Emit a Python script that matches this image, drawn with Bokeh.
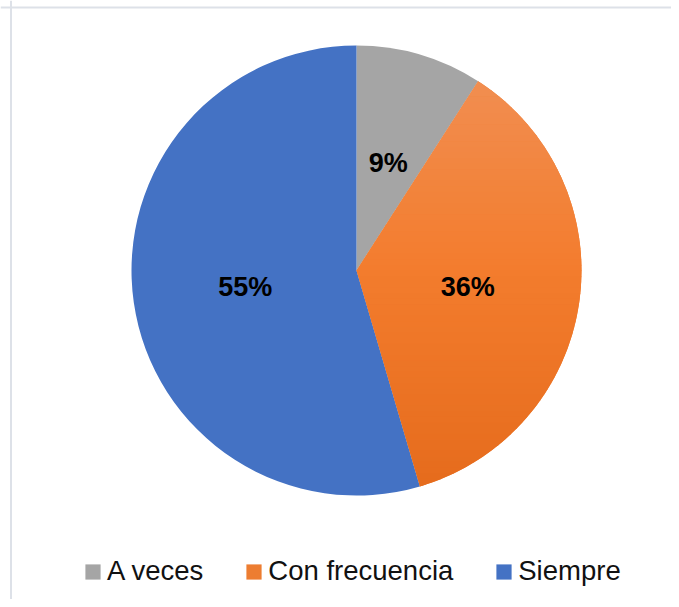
import math
from bokeh.plotting import figure
from bokeh.models import Range1d, Legend, LegendItem, Span, ColumnDataSource
from bokeh.core.properties import value
from bokeh.embed import file_html
from bokeh.resources import INLINE

# ---- data ----
categories = ["A veces", "Con frecuencia", "Siempre"]
counts = [1, 4, 6]
colors = ["#a5a5a5", "#ed7d31", "#4472c4"]

# ---- layout ----
W, H = 671, 599
CX, CY, R = 356.0, 329.0, 225.0
LABEL_R = 0.5

p = figure(width=W, height=H, output_backend="svg", toolbar_location=None,
           x_range=Range1d(0, W), y_range=Range1d(0, H), min_border=0)
p.axis.visible = False
p.grid.visible = False
p.outline_line_color = None
p.background_fill_color = "white"

total = sum(counts)
angles = []
a = math.pi / 2
for c in counts:
    span = 2 * math.pi * c / total
    angles.append((a, a - span))
    a -= span

renderers = []
for (s, e), col in zip(angles, colors):
    r = p.wedge(x=CX, y=CY, radius=R, start_angle=s, end_angle=e,
                direction="clock", fill_color=col, line_color=None)
    renderers.append(r)

# gradient overlay for the orange slice (vertical gradient)
def clip(poly, y0, y1):
    def clip_half(pts, keep, ycut):
        out = []
        n = len(pts)
        for i in range(n):
            P, Q = pts[i], pts[(i + 1) % n]
            inP, inQ = keep(P), keep(Q)
            if inP:
                out.append(P)
            if inP != inQ:
                t = (ycut - P[1]) / (Q[1] - P[1])
                out.append((P[0] + t * (Q[0] - P[0]), ycut))
        return out
    pts = clip_half(poly, lambda q: q[1] >= y0, y0)
    if not pts:
        return pts
    pts = clip_half(pts, lambda q: q[1] <= y1, y1)
    return pts

s, e = angles[1]
poly = [(CX, CY)]
N = 120
for i in range(N + 1):
    t = s + (e - s) * i / N
    poly.append((CX + R * math.cos(t), CY + R * math.sin(t)))

top_c = (0xF1, 0x91, 0x57)
mid_c = (0xF3, 0x7C, 0x2D)
bot_c = (0xE5, 0x6B, 0x1C)
def grad(f):
    if f < 0.5:
        a_, b_, t = top_c, mid_c, f / 0.5
    else:
        a_, b_, t = mid_c, bot_c, (f - 0.5) / 0.5
    return "#%02x%02x%02x" % tuple(int(round(a_[k] + (b_[k] - a_[k]) * t)) for k in range(3))

bands = 80
xs, ys, fc = [], [], []
for i in range(bands):
    y1 = CY + R - 2 * R * i / bands
    y0 = CY + R - 2 * R * (i + 1) / bands
    pts = clip(poly, y0 - 0.6, y1)
    if len(pts) >= 3:
        xs.append([q[0] for q in pts])
        ys.append([q[1] for q in pts])
        fc.append(grad((i + 0.5) / bands))
p.patches(xs="xs", ys="ys", fill_color="fc", line_color=None,
          source=ColumnDataSource(dict(xs=xs, ys=ys, fc=fc)))

# labels
lx, ly, lt = [], [], []
for (s, e), c in zip(angles, counts):
    m = (s + e) / 2
    lx.append(CX + LABEL_R * R * math.cos(m))
    ly.append(CY + LABEL_R * R * math.sin(m))
    lt.append(f"{round(100 * c / total)}%")
p.text(x=lx, y=ly, text=lt, text_align="center", text_baseline="middle",
       text_font=value("Liberation Sans"), text_font_style="bold",
       text_font_size="27px", text_color="black")

# chart area border (top and left visible)
p.add_layout(Span(location=H - 7, dimension="width", line_color="#dde1e8", line_width=2))
p.add_layout(Span(location=10.5, dimension="height", line_color="#dde1e8", line_width=2))

legend = Legend(items=[LegendItem(label=c, renderers=[r]) for c, r in zip(categories, renderers)],
                orientation="horizontal", location=(83, 12),
                glyph_width=19, glyph_height=19, label_standoff=5, spacing=41,
                label_text_font="Liberation Sans", label_text_font_size="27.5px",
                label_text_color="#111111", padding=0, margin=0,
                border_line_color=None, background_fill_alpha=0)
p.add_layout(legend, "center")

open("out.html", "w").write(file_html(p, INLINE))
